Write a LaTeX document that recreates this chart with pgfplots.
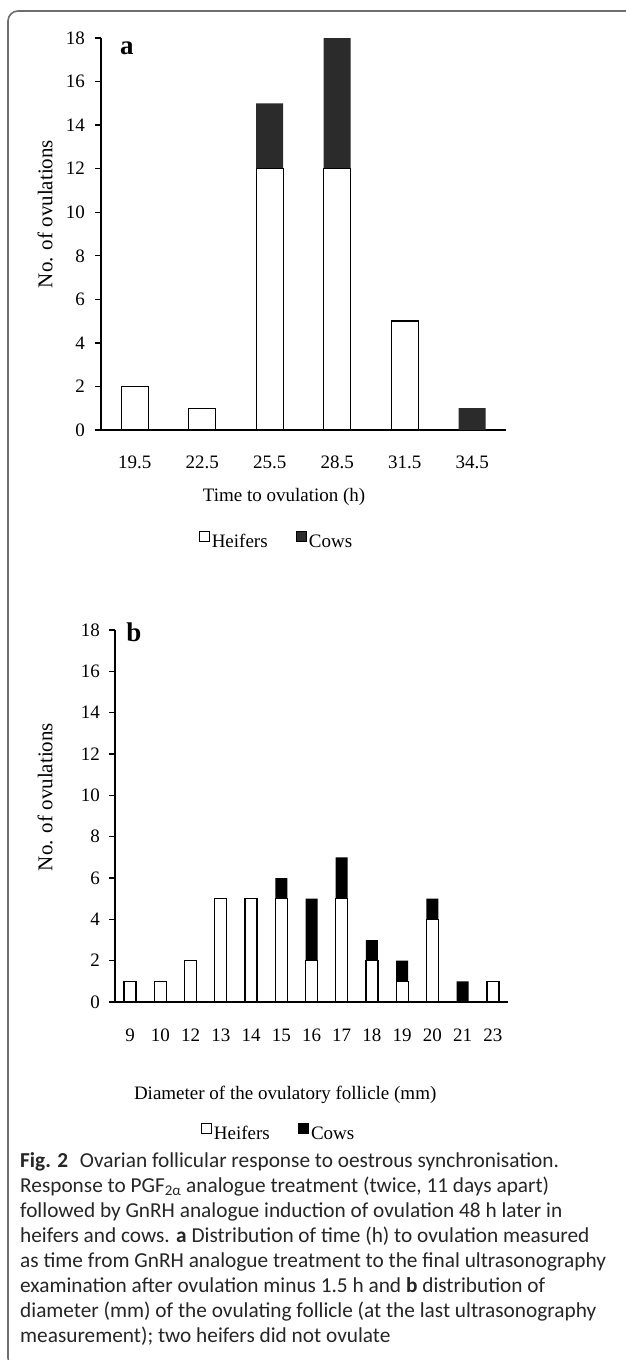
\documentclass[border=0pt]{standalone}
\usepackage{fontspec}
\setmainfont{Liberation Serif}
\newfontfamily\capfont{Carlito}
\usepackage{pgfplots}
\pgfplotsset{compat=1.18}

\definecolor{cowsdark}{HTML}{2B2B2B}
\definecolor{framegray}{HTML}{6E6E6E}
\definecolor{captext}{HTML}{262626}

\newcommand{\chartfont}{\fontsize{19}{23}\selectfont}

\pgfplotsset{
  ovbars/.style={
    scale only axis,
    clip=false,
    ybar stacked,
    axis x line=bottom, axis y line=left,
    axis line style={-, line width=1.6pt},
    ymin=0, ymax=18, ytick={0,2,...,18},
    tick align=outside,
    major tick length=6pt,
    ytick style={line width=1.3pt, black},
    /pgf/number format/assume math mode=true,
    ticklabel style={font=\chartfont},
    label style={font=\chartfont},
    ylabel style={font=\fontsize{21}{24}\selectfont},
    yticklabel style={inner sep=0pt, anchor=east},
    xticklabel style={inner sep=0pt, anchor=north},
    legend columns=2,
    legend style={draw=none, fill=none, font=\chartfont,
      /tikz/every even column/.append style={column sep=26pt}},
    legend image code/.code={\draw[##1, line width=1.2pt] (0pt,0pt) rectangle (10pt,10pt);},
  },
  heifer/.style={fill=white, draw=black, line width=1.3pt},
}

\begin{document}
\begin{tikzpicture}
\useasboundingbox (0pt,0pt) rectangle (625pt,-1360pt);
\fill[white] (0pt,0pt) rectangle (625pt,-1360pt);

% frame
\draw[framegray, line width=1.6pt, rounded corners=10pt]
  (640pt,-11pt) -- (8pt,-11pt) -- (8pt,-1368pt) -- (40pt,-1368pt);

% panel a
\begin{axis}[ovbars,
  at={(101pt,-430pt)}, anchor=south west,
  width=405pt, height=392pt,
  xmin=-0.5, xmax=5.5,
  bar width=27pt,
  xtick={0,...,5},
  xticklabels={19.5,22.5,25.5,28.5,31.5,34.5},
  xtick style={draw=none},
  yticklabel style={xshift=-10pt},
  xticklabel style={yshift=-20pt},
  xlabel={Time to ovulation (h)},
  ylabel={No. of ovulations},
  xlabel style={at={(axis description cs:0.452,-0.171)}, anchor=center},
  ylabel style={at={(axis description cs:-0.138,0.551)}, anchor=center, rotate=0},
  legend style={at={(axis description cs:0.433,-0.283)}, anchor=center},
]
\addplot[heifer] coordinates {(0,2) (1,1) (2,12) (3,12) (4,5) (5,0)};
\addplot[fill=cowsdark, draw=none] coordinates {(0,0) (1,0) (2,3) (3,6) (4,0) (5,1)};
\legend{Heifers, Cows}
\node[font=\bfseries\fontsize{27}{29}\selectfont] at (axis description cs:0.064,0.973) {a};
\end{axis}

% panel b
\begin{axis}[ovbars,
  at={(115pt,-1002pt)}, anchor=south west,
  width=393pt, height=372pt,
  xmin=-0.5, xmax=12.5,
  bar width=12pt,
  xtick={0,...,12},
  xticklabels={9,10,12,13,14,15,16,17,18,19,20,21,23},
  xtick style={draw=none},
  minor xtick={-0.5,0.5,...,12.5},
  minor tick length=6pt,
  minor x tick style={line width=1.3pt, black},
  yticklabel style={xshift=-9pt},
  xticklabel style={yshift=-21pt},
  xlabel={Diameter of the ovulatory follicle (mm)},
  ylabel={No. of ovulations},
  xlabel style={at={(axis description cs:0.433,-0.25)}, anchor=center},
  ylabel style={at={(axis description cs:-0.178,0.551)}, anchor=center, rotate=0},
  legend style={at={(axis description cs:0.416,-0.352)}, anchor=center},
]
\addplot[heifer] coordinates {(0,1) (1,1) (2,2) (3,5) (4,5) (5,5) (6,2) (7,5) (8,2) (9,1) (10,4) (11,0) (12,1)};
\addplot[fill=black, draw=none] coordinates {(0,0) (1,0) (2,0) (3,0) (4,0) (5,1) (6,3) (7,2) (8,1) (9,1) (10,1) (11,1) (12,0)};
\legend{Heifers, Cows}
\node[font=\bfseries\fontsize{27}{29}\selectfont] at (axis description cs:0.048,0.995) {b};
\end{axis}

% caption
\node[anchor=north west, align=left, inner sep=0pt, text=captext,
  font=\capfont\fontsize{21.3}{25}\selectfont] at (20pt,-1152pt) {%
\textbf{Fig. 2}\hspace{0.55em}Ovarian follicular response to oestrous synchronisation.\\
Response to PGF\textsubscript{2α} analogue treatment (twice, 11 days apart)\\
followed by GnRH analogue induction of ovulation 48 h later in\\
heifers and cows. \textbf{a} Distribution of time (h) to ovulation measured\\
as time from GnRH analogue treatment to the final ultrasonography\\
examination after ovulation minus 1.5 h and \textbf{b} distribution of\\
diameter (mm) of the ovulating follicle (at the last ultrasonography\\
measurement); two heifers did not ovulate};
\end{tikzpicture}
\end{document}
